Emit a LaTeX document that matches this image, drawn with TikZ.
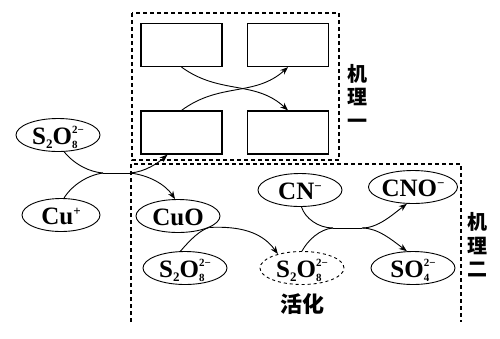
\documentclass[tikz,border=0pt]{standalone}
\usepackage{fontspec}
\setmainfont{Liberation Serif}
\newfontfamily\cjk{Noto Sans CJK SC}
\usetikzlibrary{shapes.geometric,arrows.meta,calc}
\newcommand\lo[1]{\raisebox{-4pt}{\fontsize{13}{13}\selectfont #1}}
\newcommand\hi[1]{\raisebox{8.5pt}{\fontsize{13}{13}\selectfont #1}}
\newcommand\stk[2]{\raisebox{-4pt}{\fontsize{11}{14.2}\selectfont\begin{tabular}[b]{@{}l@{}}#2\\#1\end{tabular}}}
\begin{document}
\begin{tikzpicture}[x=1pt,y=-1pt,
  sp/.style={ellipse,draw,line width=0.9pt,inner sep=0pt,minimum width=84pt,minimum height=33pt,
    text height=20pt,text depth=2pt,font=\bfseries\fontsize{25}{25}\selectfont},
  box/.style={draw,line width=1.2pt,minimum width=81pt,minimum height=43pt,inner sep=0pt},
  frame/.style={line width=1.2pt,dash pattern=on 4pt off 3pt},
  link/.style={line width=0.9pt},
  arr/.style={link,-{Stealth[length=8pt,width=6pt]}},
  lab/.style={font=\cjk\bfseries\fontsize{20}{23.5}\selectfont,align=center,inner sep=0pt}]
\useasboundingbox (0,0) rectangle (500,338);
% frames
\draw[frame] (132,13) rectangle (339,160);
\draw[frame] (131,322) -- (131,164) -- (461,164) -- (461,322);
% boxes
\node[box] (r1) at (181.5,45) {};
\node[box] (r2) at (288,45) {};
\node[box] (r3) at (181.5,132.5) {};
\node[box] (r4) at (288,132.5) {};
% species
\node[sp] (s1) at (58,135) {S\lo{2}O\stk{8}{2−}};
\node[sp,minimum width=78pt] (cu) at (61,215) {Cu\hi{+}};
\node[sp] (cuo) at (178,216) {CuO};
\node[sp] (s2) at (185,268) {S\lo{2}O\stk{8}{2−}};
\node[sp,dashed] (act) at (302,268) {S\lo{2}O\stk{8}{2−}};
\node[sp] (cn) at (300,190) {CN\hi{−}};
\node[sp] (cno) at (413,187) {CNO\hi{−}};
\node[sp] (so4) at (413,268) {SO\stk{4}{2−}};
\node[font=\cjk\bfseries\fontsize{22}{22}\selectfont,inner sep=0pt] (hh) at (302,304) {活化};
\node[lab] (j1) at (357,96) {机\\理\\一};
\node[lab] (j2) at (477,245) {机\\理\\二};
% top crossing
\draw[arr] (r1.south) .. controls (220,95) and (255,80) .. (r4.north);
\draw[arr] (r3.north) .. controls (220,82) and (255,97) .. (r2.south);
% left merge/split
\coordinate (m1) at (103,173);
\coordinate (k1) at (130,173);
\draw[link] (s1.-70) .. controls (75,165) and (90,172) .. (m1);
\draw[link] (cu.80) .. controls (72,185) and (88,175) .. (m1);
\draw[link] (m1) -- (k1);
\draw[arr] (k1) .. controls (145,172) and (158,163) .. ([xshift=-14pt]r3.south);
\draw[arr] (k1) .. controls (148,175) and (165,184) .. (cuo.100);
% CuO + S2O8 -> activated
\draw[link] (s2.105) .. controls (190,240) and (200,230) .. (cuo.-20);
\draw[arr] (cuo.-20) .. controls (240,226) and (262,232) .. (act.150);
% CN- + activated -> products
\coordinate (m3) at (333,228);
\coordinate (k3) at (362,228);
\draw[link] (cn.-85) .. controls (305,218) and (318,228) .. (m3);
\draw[link] (act.90) .. controls (308,240) and (320,229) .. (m3);
\draw[link] (m3) -- (k3);
\draw[arr] (k3) .. controls (378,228) and (392,215) .. (cno.-110);
\draw[arr] (k3) .. controls (378,228) and (392,240) .. (so4.110);
\end{tikzpicture}
\end{document}
